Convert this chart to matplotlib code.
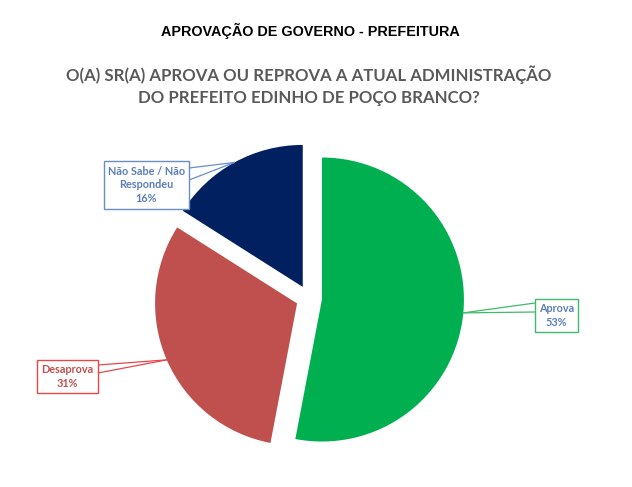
import matplotlib
matplotlib.use("Agg")
import matplotlib.pyplot as plt
from matplotlib.patches import Rectangle
import numpy as np

categories = ["Aprova", "Desaprova", "Não Sabe / Não\nRespondeu"]
values = [53, 31, 16]
colors = ["#00B050", "#C0504D", "#002060"]
text_colors = ["#5B7DB8", "#C0504D", "#5B7DB8"]
edge_colors = ["#3DBB6A", "#E8474A", "#6A8EC8"]

title1 = "APROVAÇÃO DE GOVERNO - PREFEITURA"
title2 = "O(A) SR(A) APROVA OU REPROVA A ATUAL ADMINISTRAÇÃO\nDO PREFEITO EDINHO DE POÇO BRANCO?"

W, H = 632, 487
fig = plt.figure(figsize=(W / 100, H / 100), dpi=100)
ax = fig.add_axes([0, 0, 1, 1])

def Y(p):
    return H - p

cx, cy, R = 309, Y(298.3), 142
# matplotlib offsets exploded wedges by the explode value in data units
wedges, _ = ax.pie(values, colors=colors, startangle=90, counterclock=False,
                   center=(cx, cy), radius=R, explode=[0.0915 * R] * 3,
                   wedgeprops=dict(linewidth=0), frame=False)
ax.set_xlim(0, W)
ax.set_ylim(0, H)
ax.set_aspect("auto")
ax.axis("off")

# label boxes (x0, y0_top, x1, y1_bottom) in pixel coords, attach points on box
boxes = [
    (535, 299, 578, 332, [(535, 303), (535, 312)]),
    (37, 360, 98, 393, [(98, 365), (98, 373)]),
    (104, 161, 189, 209, [(189, 168), (189, 180)]),
]

for w, cat, val, tc, ec, (x0, y0, x1, y1, att) in zip(wedges, categories, values,
                                                       text_colors, edge_colors, boxes):
    th = np.deg2rad((w.theta1 + w.theta2) / 2)
    wx, wy = w.center
    tip = (wx + w.r * np.cos(th), wy + w.r * np.sin(th))
    for (px, py) in att:
        ax.plot([px, tip[0]], [Y(py), tip[1]], color=ec, lw=0.9, zorder=3)
    ax.add_patch(Rectangle((x0, Y(y1)), x1 - x0, y1 - y0, facecolor="white",
                           edgecolor=ec, lw=1.0, zorder=4))
    ax.text((x0 + x1) / 2, Y((y0 + y1) / 2), f"{cat}\n{val}%", ha="center", va="center",
            color=tc, fontsize=7.8, fontweight="bold", family="Lato",
            linespacing=1.25, zorder=5)

fig.text(310 / W, 1 - 30.5 / H, title1, ha="center", va="center", fontsize=10.4,
         fontweight="bold", family="Liberation Sans", color="black")
fig.text(309 / W, 1 - 85.5 / H, title2, ha="center", va="center", fontsize=12.05,
         fontweight="bold", family="Lato", color="#595959", linespacing=1.45)

fig.savefig("out.png", dpi=100, facecolor="white")
